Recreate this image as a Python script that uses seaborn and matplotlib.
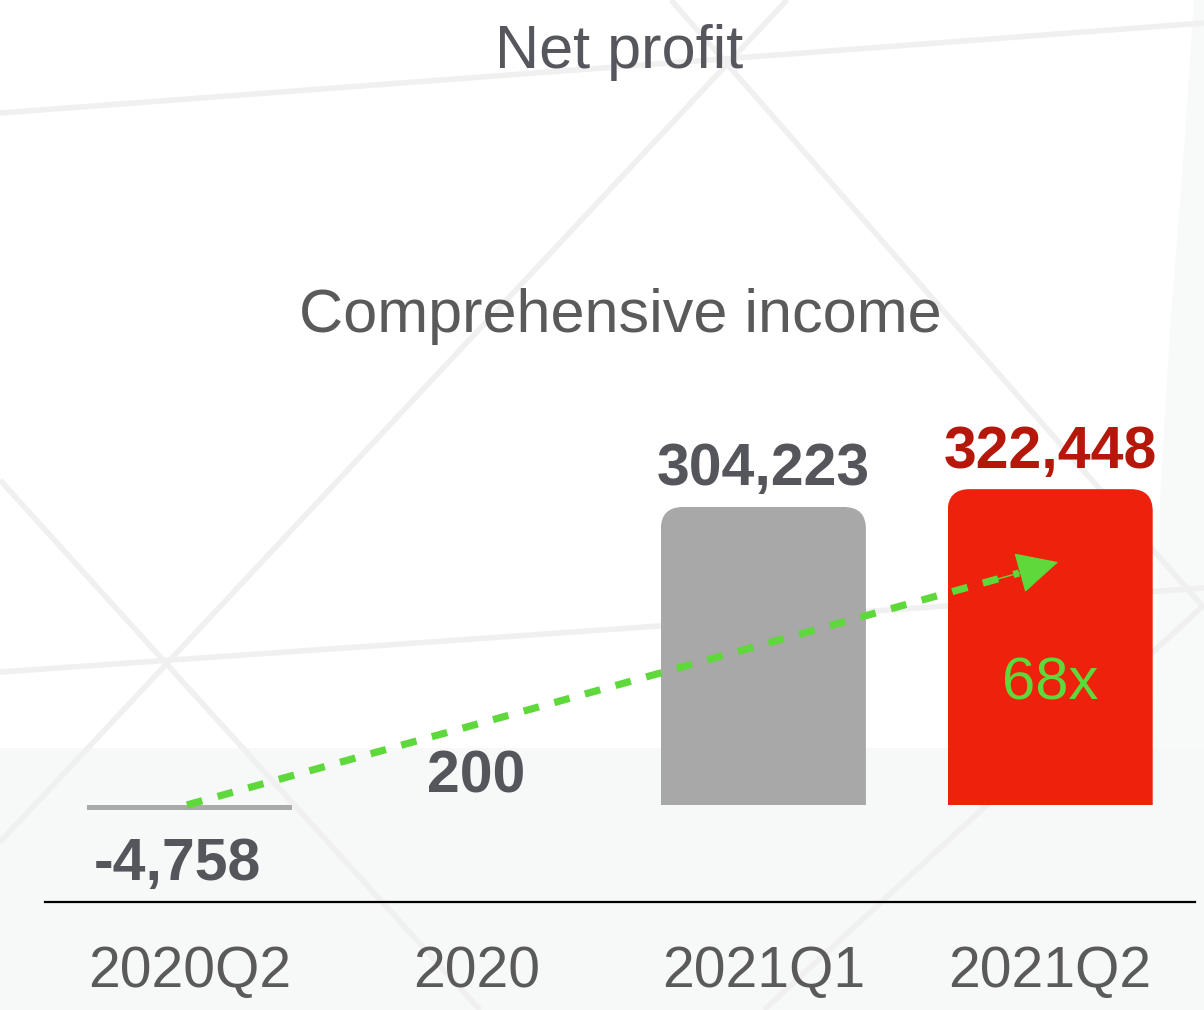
import matplotlib
matplotlib.use("Agg")
import matplotlib.pyplot as plt
from matplotlib.patches import FancyBboxPatch, Rectangle, Polygon
from matplotlib.lines import Line2D
import seaborn as sns
import pandas as pd

# ---------------- data ----------------
categories = ["2020Q2", "2020", "2021Q1", "2021Q2"]
values = [-4758, 200, 304223, 322448]
value_labels = ["-4,758", "200", "304,223", "322,448"]
bar_colors = ["#a9aaa9", "#a9aaa9", "#a7a8a7", "#ee220c"]
label_colors = ["#54565c", "#54565c", "#54565c", "#b5170b"]
title_text = "Net profit"
subtitle_text = "Comprehensive income"
growth_text = "68x"

# ---------------- style ----------------
sns.set_theme(style="white")
plt.rcParams["font.family"] = ["Liberation Sans", "DejaVu Sans"]

W, H, DPI = 1204, 1010, 100
fig = plt.figure(figsize=(W / DPI, H / DPI), dpi=DPI, facecolor="white")

def fp(x, y):
    """pixel (from top-left) -> figure fraction"""
    return (x / W, 1 - y / H)

# ---------- faint background texture ----------
fig.add_artist(Rectangle(fp(0, 1010), 1, (1010 - 748) / H, transform=fig.transFigure,
                         facecolor="#f7f8f8", edgecolor="none", zorder=-10))
fig.add_artist(Polygon([fp(1194, 0), fp(1204, 0), fp(1204, 748), fp(1155, 748),
                        fp(1160, 500), fp(1170, 330), fp(1184, 150)], closed=True,
                       transform=fig.transFigure, facecolor="#f8f9f9",
                       edgecolor="none", zorder=-9))
bg_lines = [((0, 113), (1204, 23)), ((0, 672), (1204, 588)),
            ((787, 0), (0, 842)), ((671, 0), (1204, 608)),
            ((0, 480), (480, 1010)), ((764, 1010), (1204, 605))]
for (xa, ya), (xb, yb) in bg_lines:
    p1, p2 = fp(xa, ya), fp(xb, yb)
    fig.add_artist(Line2D([p1[0], p2[0]], [p1[1], p2[1]], transform=fig.transFigure,
                          color="#f0f0f0", lw=4, zorder=-8, solid_capstyle="butt"))

# ---------- axes ----------
ax_left, ax_right = 45, 1195
ax_bottom_px, ax_top_px = 902, 380
zero_px = 805
k = 304223 / (805 - 507)   # data units per pixel (vertical)
ax = fig.add_axes([ax_left / W, (H - ax_bottom_px) / H,
                   (ax_right - ax_left) / W, (ax_bottom_px - ax_top_px) / H])
ax.set_facecolor("none")
ax.patch.set_alpha(0)

df = pd.DataFrame({"cat": categories, "val": values})
sns.barplot(data=df, x="cat", y="val", hue="cat", palette=bar_colors,
            legend=False, width=0.715, saturation=1, linewidth=0, ax=ax, zorder=2)

ax.set_xlim(-0.505, 3.505)
ax.set_ylim(-(ax_bottom_px - zero_px) * k, (zero_px - ax_top_px) * k)

# rounded top corners
xr = ax.get_xlim()[1] - ax.get_xlim()[0]
yr = ax.get_ylim()[1] - ax.get_ylim()[0]
wpx = ax_right - ax_left
hpx = ax_bottom_px - ax_top_px
asp = (yr / hpx) / (xr / wpx)
r = 22 * xr / wpx
for p in ax.patches:
    p.set_edgecolor("none")
    h = p.get_height()
    if h > 20000:
        x0, y0, w = p.get_x(), p.get_y(), p.get_width()
        clip = FancyBboxPatch((x0, y0 - h), w, 2 * h,
                              boxstyle=f"round,pad=0,rounding_size={r}",
                              mutation_aspect=asp, transform=ax.transData,
                              facecolor="none", edgecolor="none")
        p.set_clip_path(clip)

# spines / ticks
for s in ["left", "right", "top"]:
    ax.spines[s].set_visible(False)
ax.spines["bottom"].set_color("black")
ax.spines["bottom"].set_linewidth(1.6)
ax.set_yticks([])
ax.set_xlabel("")
ax.set_ylabel("")
ax.tick_params(axis="x", length=0, pad=31, labelsize=41, labelcolor="#5a5a5a")

# value labels (baseline offsets in points)
offsets = [(-9, -50.4), (0, 8.6), (0, 15.8), (0, 15)]
for i, (v, lab, c, off) in enumerate(zip(values, value_labels, label_colors, offsets)):
    ax.annotate(lab, xy=(i, v), xytext=off, textcoords="offset points",
                ha="center", va="baseline", fontsize=42.5, fontweight="bold",
                color=c, zorder=5)

# growth arrow
green = "#5ed83a"
x_start, y_start = -0.01, 0
x_tip, y_tip = 3.028, 248000
frac = 0.955
xm = x_start + (x_tip - x_start) * frac
ym = y_start + (y_tip - y_start) * frac
ax.plot([x_start, xm], [y_start, ym], color=green, lw=5.2,
        linestyle=(0, (2.2, 2.2)), dash_capstyle="butt", zorder=4)
ax.annotate("", xy=(x_tip, y_tip), xytext=(x_start + (x_tip - x_start) * 0.93,
                                            y_start + (y_tip - y_start) * 0.93),
            arrowprops=dict(arrowstyle="-|>,head_length=1.0,head_width=0.5",
                            color=green, lw=1, mutation_scale=27,
                            shrinkA=0, shrinkB=0), zorder=4)
ax.text(3, (805 - 700) * k, growth_text, ha="center", va="baseline",
        fontsize=43, color=green, zorder=5)

# titles
fig.text(*fp(619, 68), title_text, ha="center", va="baseline",
         fontsize=44, color="#55575c")
fig.text(*fp(620, 332), subtitle_text, ha="center", va="baseline",
         fontsize=44, color="#5a5a5a")

fig.savefig("out.png", dpi=DPI, facecolor="white")
